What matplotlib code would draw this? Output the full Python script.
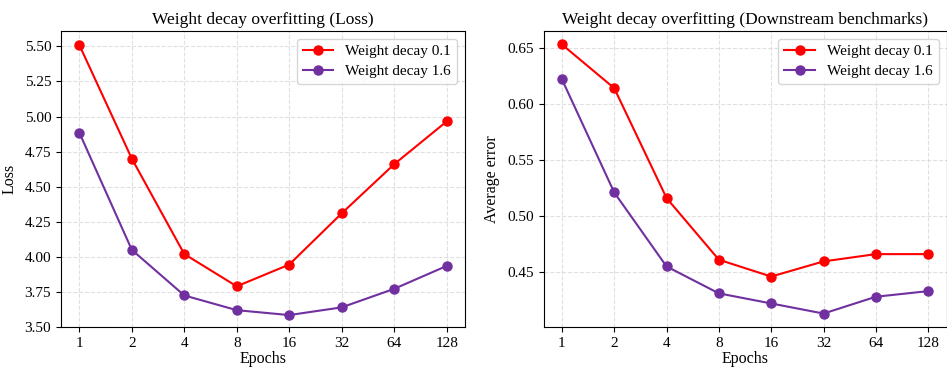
import numpy as np
import matplotlib
matplotlib.use("Agg")
import matplotlib.pyplot as plt
from matplotlib.ticker import FormatStrFormatter

epochs = [1, 2, 4, 8, 16, 32, 64, 128]

loss_wd01 = [5.51, 4.70, 4.02, 3.79, 3.945, 4.31, 4.66, 4.965]
loss_wd16 = [4.885, 4.05, 3.725, 3.62, 3.585, 3.64, 3.772, 3.935]

err_wd01 = [0.653, 0.614, 0.516, 0.461, 0.446, 0.4595, 0.466, 0.466]
err_wd16 = [0.622, 0.521, 0.455, 0.431, 0.422, 0.413, 0.428, 0.433]

RED = "#ff0000"
PURPLE = "#7030a0"

plt.rcParams["font.family"] = ["Liberation Serif", "DejaVu Serif"]

fig = plt.figure(figsize=(9.47, 3.68), dpi=100)
ax1 = fig.add_axes([0.0644, 0.1114, 0.4266, 0.8044])
ax2 = fig.add_axes([0.574, 0.1114, 0.4255, 0.8044])

x = np.arange(len(epochs))

panels = [
    (ax1, loss_wd01, loss_wd16, "Weight decay overfitting (Loss)", "Loss"),
    (ax2, err_wd01, err_wd16, "Weight decay overfitting (Downstream benchmarks)", "Average error"),
]

for ax, a, b, title, ylabel in panels:
    ax.plot(x, a, "-o", color=RED, lw=1.5, ms=6.5, label="Weight decay 0.1")
    ax.plot(x, b, "-o", color=PURPLE, lw=1.5, ms=6.5, label="Weight decay 1.6")
    ax.set_xticks(x)
    ax.set_xticklabels([str(e) for e in epochs])
    ax.set_title(title, fontsize=12.5, pad=5)
    ax.set_xlabel("Epochs", fontsize=11.5, labelpad=1)
    ax.set_ylabel(ylabel, fontsize=11.5, labelpad=5)
    ax.tick_params(labelsize=11)
    ax.grid(True, linestyle="--", color="#cccccc", alpha=0.6, lw=0.8)
    ax.legend(loc="upper right", fontsize=11, framealpha=0.8,
              handlelength=2.0, borderpad=0.4, labelspacing=0.4)
    ax.yaxis.set_major_formatter(FormatStrFormatter("%.2f"))

ax1.set_ylim(3.5, 5.61)
ax1.set_yticks(np.arange(3.5, 5.51, 0.25))
ax2.set_yticks([0.45, 0.50, 0.55, 0.60, 0.65])

fig.savefig("out.png", dpi=100)
